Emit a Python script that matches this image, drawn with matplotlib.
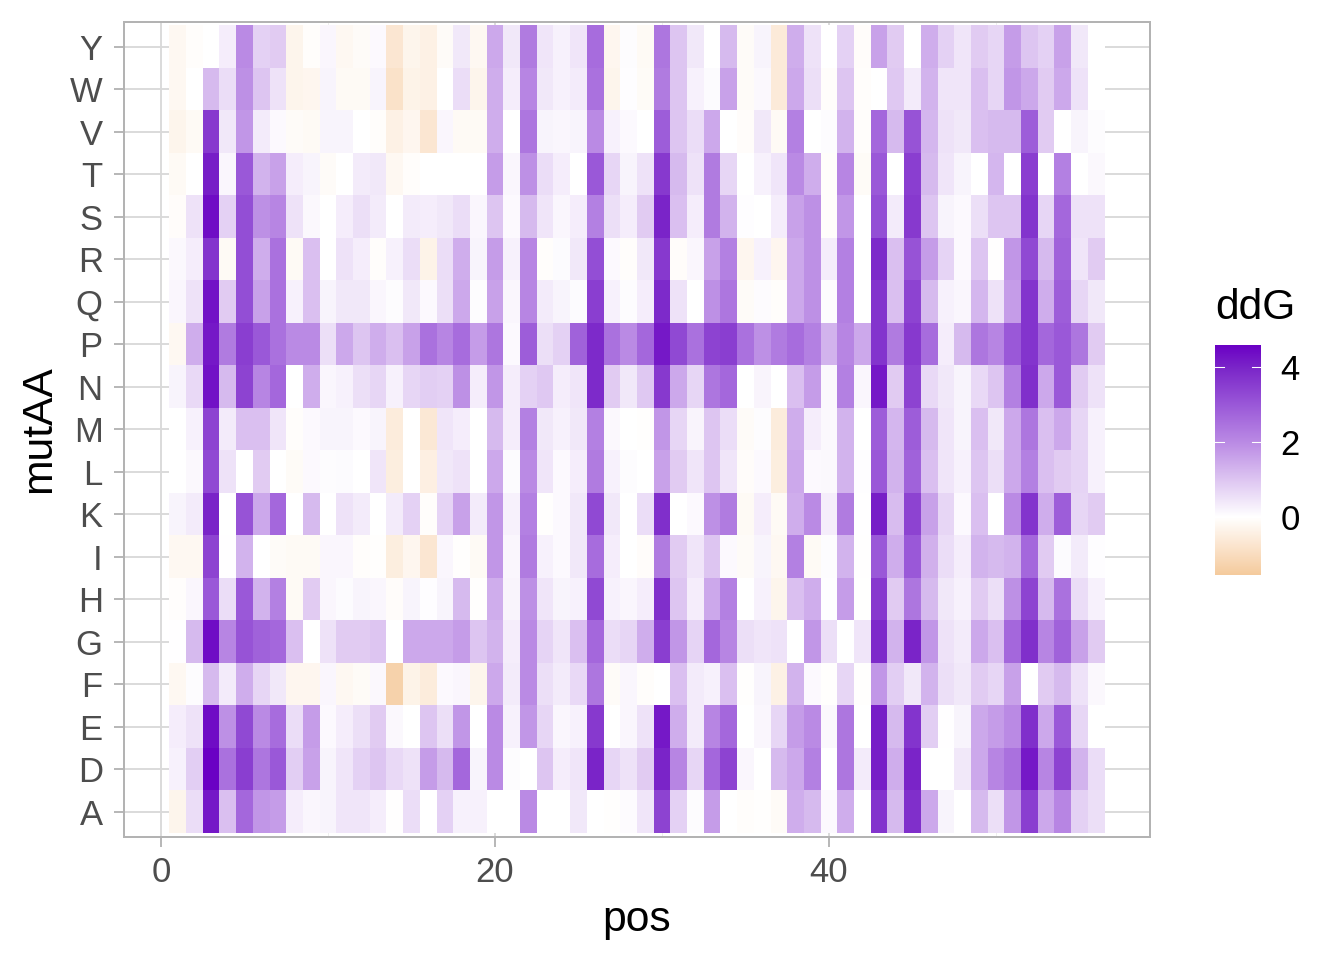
import matplotlib
matplotlib.use("Agg")
import matplotlib.pyplot as plt
import numpy as np
from matplotlib.colors import LinearSegmentedColormap, Normalize
from matplotlib.ticker import MultipleLocator

plt.rcParams['font.family'] = ['Liberation Sans', 'DejaVu Sans']

aas = ['A','D','E','F','G','H','I','K','L','M','N','P','Q','R','S','T','V','W','Y']
Y = [-.2,-.05,0,.3,2.0,.8,.9,-.3,-.05,.15,-.2,-.1,.1,-.7,-.3,-.4,-.1,.4,-.2, 1.5,.4,2.3,.45,.25,.45,2.6,-.25,.05,-.15,2.4,1.0,.4,0,1.2,-.1,.2,-.6,1.4, .5,0,.8,-.08,1.6,.9,0,1.4,.8,.45,.9,.7,1.7,1.0,.8,1.6,.4,0]
W = [-.2,0,1.2,.6,1.9,1.0,.5,-.3,-.25,.2,-.15,-.15,.2,-.85,-.35,-.4,0,.6,-.3, 1.4,.3,2.1,.4,.25,.35,2.5,-.3,.03,-.12,2.3,1.0,.25,.08,1.6,-.1,.12,-.6,1.5, .55,-.05,1.0,-.05,0,.95,.35,1.3,.45,.45,1.1,.7,1.8,1.5,.9,1.5,.5,0]
V = [-.3,-.15,3.6,.4,1.8,.35,.1,-.1,-.15,.2,.2,0,-.05,-.4,-.25,-.7,.15,-.15,-.15, 1.4,0,2.4,.2,.15,.2,2.0,.25,.1,0,2.9,1.0,.6,1.5,0,-.08,.4,-.15,2.2, 0,.05,1.3,-.06,2.7,1.2,3.1,1.25,.5,.4,1.1,1.2,1.2,2.9,.9,0,.2,.05]
T = [-.15,0,4.1,.15,3.0,1.3,1.6,.3,.2,-.1,0,.35,.4,-.2,-.05,0,0,0,0, 1.7,.15,1.9,.6,.3,0,3.0,.7,.2,.5,3.6,1.2,.5,2.3,.7,0,.25,.45,2.0, 1.4,-.06,2.1,-.12,3.0,0,3.5,1.2,.45,.2,0,1.25,0,3.5,0,2.2,0,.12]
S = [-.08,.5,4.4,.8,3.2,1.9,2.1,.5,.12,0,.3,.55,.35,0,.35,.3,.4,.6,.15, 1.0,.1,1.2,.45,.15,.3,2.2,.55,.3,.9,4.0,1.1,.3,2.3,1.3,.03,0,.3,1.6, 1.9,-.05,1.8,0,3.2,.35,3.6,1.0,.2,.1,.55,1.0,1.0,3.7,.7,2.7,.5,.5]
R = [.12,.3,3.7,-.15,3.2,1.4,2.5,-.15,1.1,0,.5,.3,-.05,.25,.6,-.35,.6,1.4,.2, 1.7,.25,2.1,-.05,.08,.4,3.2,.1,-.05,.4,3.6,-.08,.15,1.6,2.2,-.25,.25,-.25,1.5, 1.9,.3,2.2,0,3.9,1.1,3.1,1.7,.75,.1,1.0,-.02,1.8,3.3,1.2,2.8,.45,.9]
Q = [.15,.5,4.3,.9,3.2,1.6,2.5,.25,1.1,.2,.4,.4,.15,.05,.4,.1,.55,1.5,.05, 1.6,.15,2.1,.35,.2,.08,3.5,.25,.05,.3,3.9,.5,0,1.9,2.4,-.1,.06,-.06,1.5, 1.9,.05,2.2,0,3.7,1.1,3.4,1.2,.25,.15,1.25,.5,1.7,3.7,1.4,2.9,.7,.4]
P = [-.2,1.4,4.2,2.3,3.5,3.0,2.5,2.0,2.0,.55,1.5,1.0,1.4,1.1,1.6,2.5,2.1,2.6,1.7, 2.4,.1,2.9,.55,.8,2.8,3.9,2.5,2.0,2.7,4.2,3.3,2.5,3.4,3.5,2.5,1.9,2.3,2.6, 2.2,1.3,2.1,1.5,3.7,2.3,3.6,2.6,.3,1.2,2.4,2.1,3.0,3.7,2.7,3.0,2.4,.9]
N = [.2,.65,4.3,1.2,3.4,2.1,2.7,0,1.4,.15,.25,.55,.7,.25,.7,.85,.8,1.9,.3, 1.8,.3,.8,.95,.3,.45,3.9,.9,.4,.95,3.6,1.5,.7,2.4,2.7,0,.18,0,1.1, 1.7,.12,2.2,.15,4.2,.9,3.4,.65,.4,.2,.65,1.0,2.2,3.8,1.5,3.0,.9,.5]
M = [0,.25,3.4,.35,1.1,1.1,.45,-.05,.1,.2,.2,.1,.2,-.55,0,-.65,.45,.3,0, 1.2,.3,2.2,.4,.25,.4,2.2,.12,0,-.03,1.8,.7,.18,1.0,.6,-.1,.05,-.55,1.4, .3,.12,1.3,0,2.9,1.25,2.9,1.2,.45,.2,1.1,.4,1.5,2.4,1.1,1.5,.7,.25]
L = [0,.12,3.3,.5,0,.9,0,-.12,.1,.05,.08,0,.45,-.5,0,-.45,.4,.5,0, 1.5,.08,2.0,.45,.1,.3,2.3,.25,.05,0,1.6,.9,.45,1.0,.45,-.08,.1,-.5,1.5, .1,.12,1.3,.03,3.0,1.3,2.8,1.1,.45,.25,1.0,.55,1.5,2.2,1.1,.9,.75,.25]
K = [.2,.35,4.0,0,3.1,1.5,2.7,0,1.2,0,.5,.35,0,.35,.8,-.05,.75,1.6,.35, 1.8,.25,2.2,-.03,.1,.4,3.3,.4,0,.6,3.8,0,.1,1.9,2.3,-.15,.3,-.15,1.4, 2.0,.3,2.3,.02,4.1,1.15,3.4,1.6,.7,.1,1.1,0,2.0,3.7,1.4,2.9,.7,.9]
I = [-.2,-.2,3.4,.02,1.3,0,-.1,-.15,-.15,.15,.15,-.05,-.03,-.5,-.25,-.7,.15,-.03,-.15, 1.8,.15,2.3,.25,.1,.4,2.6,.3,0,-.08,2.3,.9,.45,1.0,.1,-.1,.2,-.2,2.2, -.15,.05,1.3,-.02,3.0,1.4,3.0,1.35,.6,.3,1.3,1.2,1.3,2.7,.9,.08,.35,.03]
H = [-.04,.15,3.0,.6,3.0,1.3,2.2,-.15,.9,.15,.08,.2,.15,-.08,.2,.03,.2,1.2,-.03, 1.4,.18,1.9,.45,.2,.25,3.3,.25,.15,.3,3.8,1.0,.3,1.5,2.2,0,.25,-.3,1.1, 1.4,.03,1.7,-.01,3.6,.9,2.4,1.2,.4,.25,.9,.55,1.9,3.4,1.2,2.5,.6,.25]
G = [.02,1.2,4.4,2.1,3.1,2.8,2.7,1.1,0,.5,.9,.9,1.0,0,1.5,1.5,1.5,1.7,1.0, 1.3,.3,2.0,.75,.45,1.1,2.7,.6,.7,1.4,3.5,1.8,.75,2.7,2.1,.55,.45,.5,0, 1.8,.55,0,.45,3.9,1.3,4.0,1.8,.5,.35,1.5,1.1,2.7,3.8,2.1,2.8,1.6,.9]
F = [-.2,.05,1.2,.35,1.4,.7,.4,-.25,-.25,.15,-.2,-.12,.12,-1.3,-.35,-.55,.1,.15,-.3, 1.5,.35,2.0,.55,.35,.65,2.4,-.1,.15,-.05,0,1.1,.35,.25,1.1,-.03,.2,-.4,1.3, .1,-.03,.7,-.03,1.8,.85,.4,1.3,.55,.4,.9,.7,1.6,0,.9,1.2,.5,.12]
E = [.3,.5,4.4,1.9,3.3,2.0,2.6,.6,1.7,.1,.3,.55,.9,.12,0,1.0,.55,1.8,0, 2.0,.25,1.8,.7,.15,.25,3.6,0,.15,.5,4.2,1.4,.35,2.1,2.7,0,.15,.7,1.7, 2.0,.12,2.4,0,4.1,1.2,3.7,.85,.02,.2,1.5,1.7,2.0,3.8,1.5,3.0,.7,0]
D = [.25,.85,4.6,2.5,3.5,2.4,3.0,.85,1.6,.2,.45,.8,1.0,.65,.5,1.7,1.2,2.7,.2, 2.0,.05,0,1.0,.3,.45,4.0,.7,.5,.9,4.0,2.1,.7,2.7,3.4,.15,0,1.2,1.5, 2.2,0,2.4,.35,4.1,1.4,4.0,0,0,.4,1.5,2.1,2.5,4.2,2.1,3.4,1.3,.6]
A = [-.3,.6,4.2,1.1,2.7,1.8,1.7,.3,.15,.2,.45,.45,.3,-.02,.6,0,.8,.25,.25, 0,0,2.0,0,0,.4,0,-.03,.07,.45,3.4,.8,.05,1.7,0,-.05,-.03,-.12,1.4, 1.2,.1,1.4,0,3.7,1.2,3.8,1.5,.2,0,1.2,.55,1.8,3.5,1.5,2.1,.8,.55]

rows = [A, D, E, F, G, H, I, K, L, M, N, P, Q, R, S, T, V, W, Y]
grid = np.array(rows, dtype=float)
pos = np.arange(1, grid.shape[1] + 1)

vmin, vmax = -1.55, 4.6
stops = [(-1.55, '#F4CA9C'), (-0.75, '#FBE5CF'), (0, '#FFFFFF'), (1, '#DDC5F1'),
         (2, '#BA8AE4'), (3, '#9A58D8'), (4, '#7A25C8'), (4.6, '#6A00C4')]
cmap = LinearSegmentedColormap.from_list(
    'ddg', [((v - vmin) / (vmax - vmin), c) for v, c in stops], N=512)
norm = Normalize(vmin, vmax)

W_PX, H_PX = 1344, 960
fig = plt.figure(figsize=(7, 5), dpi=192)
ax = fig.add_axes([124 / W_PX, 1 - 837 / H_PX, (1150 - 124) / W_PX, (837 - 22) / H_PX])

ax.set_xlim((124 - 161) / 16.7, (1150 - 161) / 16.7)
ax.set_ylim(-0.595, 18.58)
ax.set_axisbelow(True)
ax.pcolormesh(np.arange(0.5, 57), np.arange(-0.5, 19), grid, cmap=cmap, norm=norm,
              linewidth=0, edgecolors='none', zorder=2, antialiased=False, rasterized=True)

ax.xaxis.set_major_locator(MultipleLocator(20))
ax.xaxis.set_minor_locator(MultipleLocator(10))
ax.set_yticks(np.arange(len(aas)))
ax.set_yticklabels(aas)
ax.grid(True, which='major', color='#D9D9D9', linewidth=0.7, zorder=0)
ax.grid(True, which='minor', axis='x', color='#EDEDED', linewidth=0.35, zorder=0)
ax.tick_params(axis='both', which='major', length=3.6, width=0.7, color='#B3B3B3',
               labelcolor='#4D4D4D', labelsize=13)
ax.tick_params(axis='x', which='major', pad=3.5)
ax.tick_params(axis='y', which='major', pad=4.4)
ax.tick_params(axis='x', which='minor', length=0)
for s in ax.spines.values():
    s.set_color('#B3B3B3')
    s.set_linewidth(0.75)
    s.set_zorder(5)
ax.set_xlabel('pos', fontsize=16, labelpad=4)
ax.set_ylabel('mutAA', fontsize=16, labelpad=4)

cax = fig.add_axes([1215 / W_PX, 1 - 575 / H_PX, 46 / W_PX, 230 / H_PX])
cb = fig.colorbar(plt.cm.ScalarMappable(norm=norm, cmap=cmap), cax=cax, ticks=[0, 2, 4])
cb.outline.set_visible(False)
cax.tick_params(axis='y', length=0, labelsize=13, labelcolor='black', pad=7.4)
for v in [0, 2, 4]:
    cax.plot([0, 0.2], [v, v], transform=cax.get_yaxis_transform(), color='white', lw=0.4)
    cax.plot([0.8, 1], [v, v], transform=cax.get_yaxis_transform(), color='white', lw=0.4)
fig.text(1215 / W_PX, 1 - 308 / H_PX, 'ddG', fontsize=16, ha='left', va='center')

fig.savefig('out.png', dpi=192, facecolor='white')
